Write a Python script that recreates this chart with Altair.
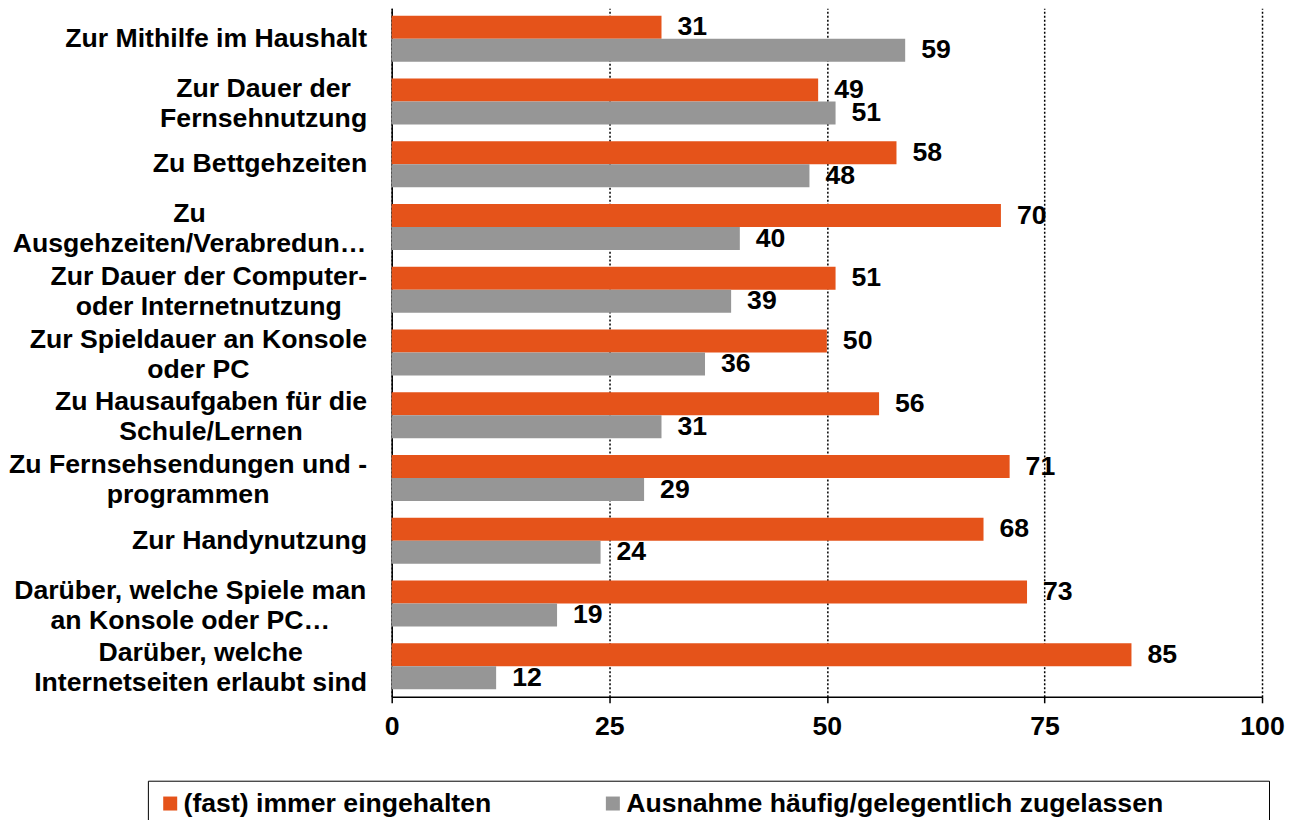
import json
import altair as alt
import pandas as pd

# ---- data -------------------------------------------------------------
categories = [
    "Zur Mithilfe im Haushalt",
    "Zur Dauer der|Fernsehnutzung",
    "Zu Bettgehzeiten",
    "Zu|Ausgehzeiten/Verabredun…",
    "Zur Dauer der Computer-|oder Internetnutzung",
    "Zur Spieldauer an Konsole|oder PC",
    "Zu Hausaufgaben für die|Schule/Lernen",
    "Zu Fernsehsendungen und -|programmen",
    "Zur Handynutzung",
    "Darüber, welche Spiele man|an Konsole oder PC…",
    "Darüber, welche|Internetseiten erlaubt sind",
]
series_names = ["(fast) immer eingehalten", "Ausnahme häufig/gelegentlich zugelassen"]
always = [31, 49, 58, 70, 51, 50, 56, 71, 68, 73, 85]
exceptions = [59, 51, 48, 40, 39, 36, 31, 29, 24, 19, 12]
x_ticks = [0, 25, 50, 75, 100]

# ---- style ------------------------------------------------------------
colors = ["#E5531A", "#969696"]
FONT = "Liberation Sans"
FS = 26.67  # 20pt
LABEL_GAP = 25
LINE_H = 30

# Arial/Helvetica bold advance widths (1/1000 em) to center wrapped label lines
W = dict(zip("ABCDEFGHIJKLMNOPQRSTUVWXYZ",
             [722, 722, 722, 722, 667, 611, 778, 722, 278, 556, 722, 611, 833, 722,
              778, 667, 778, 722, 667, 611, 722, 667, 944, 667, 667, 611]))
W.update(zip("abcdefghijklmnopqrstuvwxyz",
             [556, 611, 556, 611, 556, 333, 611, 611, 278, 278, 556, 278, 889, 611,
              611, 611, 611, 389, 556, 333, 611, 556, 778, 556, 556, 500]))
W.update({" ": 278, ",": 278, "-": 333, "/": 278, "…": 1000, "ü": 611, "ä": 556,
          "(": 333, ")": 333})


def text_w(s):
    return sum(W.get(ch, 556) for ch in s) * FS / 1000.0


conds = []
offs = []
for c in categories:
    lines = c.split("|")
    pad = LABEL_GAP + max(text_w(l) for l in lines) / 2.0
    conds.append({"test": "datum.value === " + json.dumps(c), "value": round(pad, 1)})
    if len(lines) > 1:
        offs.append({"test": "datum.value === " + json.dumps(c),
                     "value": -(len(lines) - 1) * LINE_H / 2.0 + 2})

label_padding = {"condition": conds, "value": LABEL_GAP}
label_offset = {"condition": offs, "value": 0}

rows = []
for c, a, e in zip(categories, always, exceptions):
    rows.append({"cat": c, "series": series_names[0], "value": a})
    rows.append({"cat": c, "series": series_names[1], "value": e})
df = pd.DataFrame(rows)

y_enc = alt.Y("cat:N", sort=categories, title=None,
              scale=alt.Scale(paddingInner=0.2675, paddingOuter=0.12),
              axis=alt.Axis(labelExpr="split(datum.label, '|')", labelFontSize=FS,
                            labelFontWeight="bold", labelFont=FONT, labelColor="black",
                            labelAlign="center", labelPadding=label_padding,
                            labelOffset=label_offset,
                            ticks=False, domainColor="black", domainWidth=1.5,
                            labelLimit=500, labelLineHeight=LINE_H, grid=False))
yoff = alt.YOffset("series:N", sort=series_names)

base = alt.Chart(df)

# widen the framed legend box to the reference's width (blank trailing room)
legend_pad = "\u00a0" * 13 + "\u200b"
legend_label_expr = ("datum.value === " + json.dumps(series_names[1])
                     + " ? datum.label + '" + legend_pad + "' : datum.label")

bars = base.mark_bar().encode(
    y=y_enc,
    yOffset=yoff,
    x=alt.X("value:Q", title=None,
            scale=alt.Scale(domain=[0, 100]),
            axis=alt.Axis(values=x_ticks, labelFontSize=FS, labelFlush=False,
                          labelFontWeight="bold", labelFont=FONT, labelColor="black",
                          tickColor="black", tickSize=6, tickWidth=1.5, labelPadding=11,
                          domainColor="black", domainWidth=1.5,
                          grid=True, gridColor="black", gridDash=[2, 2],
                          gridWidth=1.5, gridOpacity=1)),
    color=alt.Color("series:N", sort=series_names,
                    scale=alt.Scale(domain=series_names, range=colors),
                    legend=alt.Legend(title=None, orient="none", direction="horizontal",
                                      legendX=-244, legendY=773,
                                      labelExpr=legend_label_expr,
                                      labelFontSize=FS, labelFontWeight="bold",
                                      labelFont=FONT, labelColor="black",
                                      labelLimit=1000,
                                      symbolType="square", symbolSize=196,
                                      symbolStrokeWidth=0, columnPadding=108,
                                      strokeColor="black",
                                      padding=9, labelOffset=0)),
)

labels = base.mark_text(align="left", baseline="middle", dx=16, fontSize=FS,
                        fontWeight="bold", font=FONT, color="black").encode(
    y=alt.Y("cat:N", sort=categories),
    yOffset=yoff,
    x="value:Q",
    text="value:Q",
)

chart = (bars + labels).properties(
    width=871, height=689,
    padding={"left": 0, "top": 0, "right": 0, "bottom": 0},
).configure_view(stroke=None)

chart.save("out.html", embed_options={"renderer": "svg", "actions": False})
